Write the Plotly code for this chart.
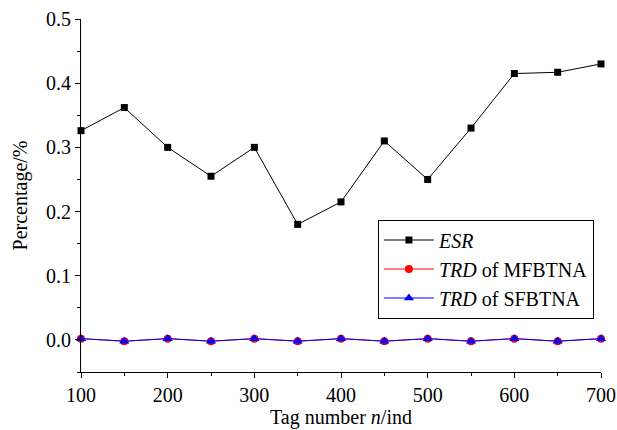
import plotly.graph_objects as go

tags = [100, 150, 200, 250, 300, 350, 400, 450, 500, 550, 600, 650, 700]
esr = [0.326, 0.362, 0.300, 0.255, 0.300, 0.180, 0.215, 0.310, 0.250, 0.330, 0.415, 0.417, 0.430]
trd_mfbtna = [0.002, -0.002, 0.002, -0.002, 0.002, -0.002, 0.002, -0.002, 0.002, -0.002, 0.002, -0.002, 0.002]
trd_sfbtna = [0.002, -0.002, 0.002, -0.002, 0.002, -0.002, 0.002, -0.002, 0.002, -0.002, 0.002, -0.002, 0.002]

font = "Liberation Serif, Times New Roman, serif"

fig = go.Figure()
fig.add_trace(go.Scatter(x=tags, y=esr, mode="lines+markers", name="<i>ESR</i>",
                         line=dict(color="black", width=1),
                         marker=dict(symbol="square", size=7, color="black"),
                         cliponaxis=False))
fig.add_trace(go.Scatter(x=tags, y=trd_mfbtna, mode="lines+markers", name="<i>TRD</i> of MFBTNA",
                         line=dict(color="red", width=1),
                         marker=dict(symbol="circle", size=8, color="red"),
                         cliponaxis=False))
fig.add_trace(go.Scatter(x=tags, y=trd_sfbtna, mode="lines+markers", name="<i>TRD</i> of SFBTNA",
                         line=dict(color="blue", width=1),
                         marker=dict(symbol="triangle-up", size=9, color="blue"),
                         cliponaxis=False))

fig.update_layout(
    width=617, height=430,
    margin=dict(l=81, r=16, t=19, b=58),
    paper_bgcolor="white", plot_bgcolor="white",
    font=dict(family=font, size=20, color="black"),
    showlegend=True,
    legend=dict(x=0.571, y=0.432, xanchor="left", yanchor="top",
                bordercolor="black", borderwidth=1, bgcolor="white",
                font=dict(family=font, size=20), tracegroupgap=0,
                itemwidth=50),
)
fig.update_xaxes(range=[100, 700], dtick=100, tick0=100, automargin=False,
                 showline=True, linecolor="black", linewidth=1, mirror=False,
                 showgrid=False, zeroline=False,
                 ticks="outside", ticklen=5, tickcolor="black",
                 minor=dict(ticks="outside", ticklen=3, dtick=50, tick0=100, tickcolor="black", showgrid=False),
                 title=dict(text="Tag number <i>n</i>/ind", standoff=4,
                            font=dict(family=font, size=20)))
fig.update_yaxes(range=[-0.05, 0.5], dtick=0.1, tick0=0, tickformat=".1f", automargin=False,
                 showline=True, linecolor="black", linewidth=1, mirror=False,
                 showgrid=False, zeroline=False,
                 ticks="outside", ticklen=5, tickcolor="black",
                 minor=dict(ticks="outside", ticklen=3, dtick=0.05, tick0=0, tickcolor="black", showgrid=False),
                 title=dict(text="Percentage/%", standoff=13,
                            font=dict(family=font, size=20)))

fig.write_html("out.html")
